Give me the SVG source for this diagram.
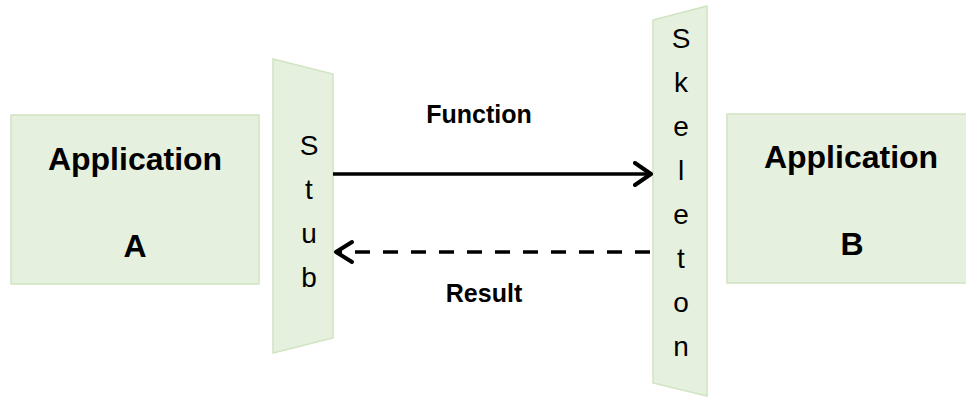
<svg xmlns="http://www.w3.org/2000/svg" width="966" height="398" viewBox="0 0 966 398">
<style>
.box{fill:#E6F0DE;stroke:#CFE4C1;stroke-width:1.5}
.t{font-family:"Liberation Sans",Arial,sans-serif;fill:#000;text-anchor:middle}
.b{font-weight:bold}
.big{font-size:32px}
.mid{font-size:25px}
.let{font-size:28px}
.con{fill:none;stroke:#000;stroke-width:3.5}
</style>
<defs>
<marker id="chev" viewBox="0 0 20 26" refX="18" refY="13" markerWidth="20" markerHeight="26" markerUnits="userSpaceOnUse" orient="auto">
<path d="M2,2 L18,13 L2,24" fill="none" stroke="#000" stroke-width="4" stroke-linecap="round" stroke-linejoin="round"/>
</marker>
</defs>
<rect width="966" height="398" fill="#fff"/>
<g id="appA">
<rect class="box" x="11" y="115" width="248" height="169"/>
<text class="t b big" x="135" y="170">Application</text>
<text class="t b big" x="135" y="257">A</text>
</g>
<g id="appB">
<rect class="box" x="727" y="114" width="250" height="169"/>
<text class="t b big" x="851" y="168">Application</text>
<text class="t b big" x="852" y="255">B</text>
</g>
<g id="stub">
<polygon class="box" points="273,59 333,74 333,338 273,353"/>
<text class="t let" x="309" y="155">S</text>
<text class="t let" x="309" y="199">t</text>
<text class="t let" x="309" y="243">u</text>
<text class="t let" x="309" y="287">b</text>
</g>
<g id="skeleton">
<polygon class="box" points="653,20 707,6 707,396 653,383"/>
<text class="t let" x="681" y="48">S</text>
<text class="t let" x="681" y="92">k</text>
<text class="t let" x="681" y="136">e</text>
<text class="t let" x="681" y="180">l</text>
<text class="t let" x="681" y="224">e</text>
<text class="t let" x="681" y="268">t</text>
<text class="t let" x="681" y="312">o</text>
<text class="t let" x="681" y="356">n</text>
</g>
<g id="connectors">
<path class="con" d="M333,174 L651,174" marker-end="url(#chev)"/>
<path class="con" d="M650,252 L336,252" stroke-dasharray="15 13"/>
<path d="M352,242 L336,252 L352,262" fill="none" stroke="#000" stroke-width="4" stroke-linecap="round" stroke-linejoin="round"/>
</g>
<g id="labels">
<text class="t b mid" x="479" y="123">Function</text>
<text class="t b mid" x="484" y="302">Result</text>
</g>
</svg>
